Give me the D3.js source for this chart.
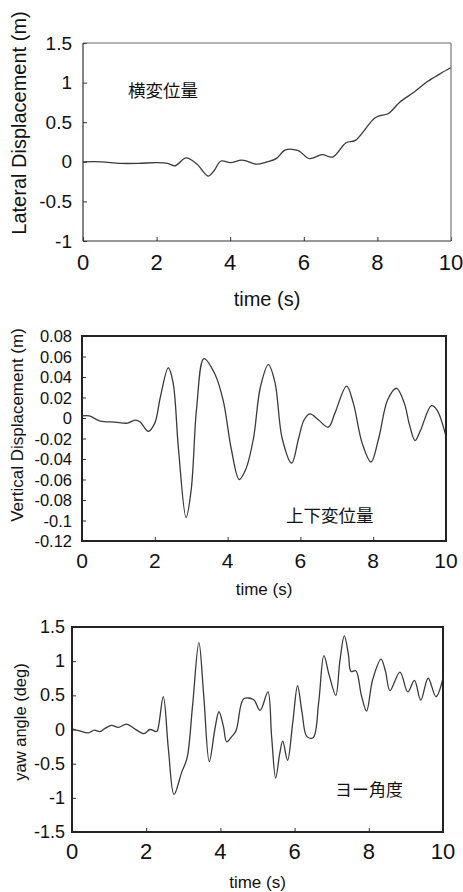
<!DOCTYPE html>
<html>
<head>
<meta charset="utf-8">
<script src="https://cdn.jsdelivr.net/npm/d3@7"></script>
<style>
  html, body { margin: 0; padding: 0; background: #fff; }
  svg { display: block; }
  text { font-family: "Liberation Sans", Arial, Helvetica, sans-serif; fill: #111; }
  .jp { font-family: "Noto Sans CJK JP", sans-serif; }
</style>
</head>
<body>
<svg id="chart" width="463" height="892"></svg>
<script>
// ---------- data ----------
const xTicks = [0, 2, 4, 6, 8, 10];
const xTickLabels = ["0", "2", "4", "6", "8", "10"];

const lateralTime = [0, 0.5, 1.0, 1.5, 2.0, 2.3, 2.5, 2.8, 3.1, 3.4, 3.55, 3.75, 4.0, 4.3, 4.45, 4.7, 5.0, 5.25, 5.5, 5.85, 6.15, 6.5, 6.78, 7.15, 7.4, 7.95, 8.3, 8.6, 9.0, 9.35, 9.7, 10];
const lateralValue = [0.0, 0.0, -0.02, -0.02, -0.01, -0.02, -0.05, 0.05, -0.03, -0.18, -0.12, 0.01, -0.01, 0.02, 0.01, -0.03, 0.0, 0.04, 0.15, 0.14, 0.04, 0.09, 0.06, 0.24, 0.27, 0.56, 0.61, 0.75, 0.88, 1.01, 1.11, 1.19];
const lateralTicks = [1.5, 1, 0.5, 0, -0.5, -1];
const lateralTickLabels = ["1.5", "1", "0.5", "0", "-0.5", "-1"];

const verticalTime = [0, 0.2, 0.5, 0.9, 1.25, 1.47, 1.6, 1.82, 2.0, 2.15, 2.37, 2.5, 2.65, 2.86, 3.0, 3.15, 3.35, 3.65, 3.88, 4.1, 4.32, 4.5, 4.71, 4.9, 5.12, 5.3, 5.5, 5.76, 5.95, 6.1, 6.26, 6.5, 6.77, 6.95, 7.27, 7.45, 7.7, 7.94, 8.15, 8.4, 8.64, 8.85, 9.0, 9.15, 9.3, 9.6, 9.75, 10];
const verticalValue = [0.002, 0.002, -0.003, -0.004, -0.005, -0.002, -0.004, -0.013, -0.005, 0.02, 0.049, 0.035, -0.03, -0.097, -0.07, 0.01, 0.058, 0.043, 0.017, -0.03, -0.06, -0.05, -0.02, 0.03, 0.052, 0.035, -0.02, -0.044, -0.02, -0.002, 0.004, -0.002, -0.009, 0.005, 0.031, 0.015, -0.025, -0.043, -0.02, 0.018, 0.029, 0.015, -0.007, -0.022, -0.012, 0.012, 0.008, -0.018];
const verticalTicks = [0.08, 0.06, 0.04, 0.02, 0, -0.02, -0.04, -0.06, -0.08, -0.1, -0.12];
const verticalTickLabels = ["0.08", "0.06", "0.04", "0.02", "0", "-0.02", "-0.04", "-0.06", "-0.08", "-0.1", "-0.12"];

const yawTime = [0, 0.2, 0.44, 0.6, 0.75, 0.9, 1.07, 1.25, 1.47, 1.69, 1.94, 2.1, 2.26, 2.3, 2.46, 2.6, 2.75, 2.96, 3.1, 3.25, 3.42, 3.55, 3.7, 3.85, 3.96, 4.08, 4.17, 4.31, 4.42, 4.55, 4.63, 4.89, 5.07, 5.28, 5.38, 5.49, 5.6, 5.68, 5.81, 5.95, 6.08, 6.2, 6.33, 6.5, 6.65, 6.79, 6.93, 7.11, 7.22, 7.34, 7.45, 7.52, 7.65, 7.8, 7.94, 8.1, 8.33, 8.45, 8.57, 8.84, 9.05, 9.23, 9.4, 9.6, 9.81, 10];
const yawValue = [0.01, -0.02, -0.05, -0.01, -0.03, 0.02, 0.06, 0.03, 0.08, 0.01, -0.06, 0.0, -0.03, -0.02, 0.48, -0.3, -0.95, -0.62, -0.42, 0.35, 1.27, 0.5, -0.47, 0.0, 0.26, 0.05, -0.18, -0.1, -0.02, 0.35, 0.45, 0.44, 0.28, 0.55, -0.1, -0.71, -0.35, -0.17, -0.45, 0.1, 0.64, 0.25, -0.1, -0.12, 0.4, 1.08, 0.8, 0.5, 1.0, 1.37, 1.1, 0.85, 0.86, 0.5, 0.27, 0.72, 1.03, 0.85, 0.57, 0.84, 0.55, 0.72, 0.43, 0.75, 0.48, 0.75];
const yawTicks = [1.5, 1, 0.5, 0, -0.5, -1, -1.5];
const yawTickLabels = ["1.5", "1", "0.5", "0", "-0.5", "-1", "-1.5"];

// ---------- drawing ----------
const svg = d3.select("#chart");

function panel(cfg) {
  const x = d3.scaleLinear().domain([0, 10]).range([cfg.left, cfg.right]);
  const y = d3.scaleLinear().domain(cfg.yDomain).range([cfg.bottom, cfg.top]);
  const g = svg.append("g");

  const yAxis = d3.axisRight(y).tickValues(cfg.yTicks).tickSize(cfg.tickLen).tickFormat("");
  g.append("g").attr("transform", `translate(${cfg.left},0)`).call(yAxis)
    .call(a => a.select(".domain").remove())
    .call(a => a.selectAll("line").attr("stroke", "#333").attr("stroke-width", 1));
  const xAxis = d3.axisTop(x).tickValues(xTicks).tickSize(cfg.tickLen).tickFormat("");
  g.append("g").attr("transform", `translate(0,${cfg.bottom})`).call(xAxis)
    .call(a => a.select(".domain").remove())
    .call(a => a.selectAll("line").attr("stroke", "#333").attr("stroke-width", 1));

  g.selectAll(".ylab").data(cfg.yTicks).enter().append("text")
    .attr("x", cfg.yLabRight).attr("y", d => y(d))
    .attr("text-anchor", "end").attr("dominant-baseline", "central")
    .attr("font-size", cfg.yTickSize)
    .text((d, i) => cfg.yTickLabels[i]);
  g.selectAll(".xlab").data(xTicks).enter().append("text")
    .attr("x", d => x(d)).attr("y", cfg.xLabY)
    .attr("text-anchor", "middle").attr("dominant-baseline", "central")
    .attr("font-size", cfg.xTickSize)
    .text((d, i) => xTickLabels[i]);

  g.append("text").attr("x", (cfg.left + cfg.right) / 2).attr("y", cfg.xTitleY)
    .attr("text-anchor", "middle").attr("dominant-baseline", "central")
    .attr("font-size", cfg.xTitleSize).text("time (s)");
  g.append("text")
    .attr("transform", `translate(${cfg.yTitleX},${cfg.yTitleY}) rotate(-90)`)
    .attr("text-anchor", "middle").attr("dominant-baseline", "central")
    .attr("font-size", cfg.yTitleSize).text(cfg.yTitle);

  const pts = cfg.t.map((t, i) => [t, cfg.v[i]]);
  const line = d3.line().x(d => x(d[0])).y(d => y(d[1])).curve(d3.curveCatmullRom.alpha(0.5));
  g.append("path").datum(pts).attr("d", line)
    .attr("fill", "none").attr("stroke", "#3a3a3a").attr("stroke-width", 1.3);

  if (cfg.lightFrame) {
    g.append("line").attr("x1", cfg.left).attr("x2", cfg.right).attr("y1", cfg.top).attr("y2", cfg.top)
      .attr("stroke", "#666").attr("stroke-width", 1);
    g.append("line").attr("x1", cfg.right).attr("x2", cfg.right).attr("y1", cfg.top).attr("y2", cfg.bottom)
      .attr("stroke", "#777").attr("stroke-width", 1.2);
    g.append("line").attr("x1", cfg.left).attr("x2", cfg.left).attr("y1", cfg.top).attr("y2", cfg.bottom)
      .attr("stroke", "#333").attr("stroke-width", 1.2);
    g.append("line").attr("x1", cfg.left).attr("x2", cfg.right).attr("y1", cfg.bottom).attr("y2", cfg.bottom)
      .attr("stroke", "#333").attr("stroke-width", 1.2);
  } else {
    g.append("rect").attr("x", cfg.left).attr("y", cfg.top)
      .attr("width", cfg.right - cfg.left).attr("height", cfg.bottom - cfg.top)
      .attr("fill", "none").attr("stroke", "#222").attr("stroke-width", 2);
  }

  g.append("text").attr("class", "jp").attr("x", cfg.jpX).attr("y", cfg.jpY)
    .attr("dominant-baseline", "central").attr("font-size", cfg.jpSize).text(cfg.jp);
}

panel({
  t: lateralTime, v: lateralValue, yDomain: [-1, 1.5], yTicks: lateralTicks, yTickLabels: lateralTickLabels,
  left: 83, right: 451, top: 43, bottom: 241, tickLen: 4, lightFrame: true,
  yLabRight: 72, yTickSize: 19, xLabY: 262, xTickSize: 22,
  xTitleY: 299, xTitleSize: 20,
  yTitle: "Lateral Displacement (m)", yTitleX: 19, yTitleY: 123, yTitleSize: 20,
  jp: "横変位量", jpX: 128, jpY: 89, jpSize: 17.5
});

panel({
  t: verticalTime, v: verticalValue, yDomain: [-0.12, 0.08], yTicks: verticalTicks, yTickLabels: verticalTickLabels,
  left: 82, right: 446, top: 336, bottom: 541, tickLen: 4, lightFrame: false,
  yLabRight: 72, yTickSize: 16.5, xLabY: 560, xTickSize: 21,
  xTitleY: 589, xTitleSize: 17,
  yTitle: "Vertical Displacement (m)", yTitleX: 17, yTitleY: 425, yTitleSize: 17,
  jp: "上下変位量", jpX: 286, jpY: 514, jpSize: 17.5
});

panel({
  t: yawTime, v: yawValue, yDomain: [-1.5, 1.5], yTicks: yawTicks, yTickLabels: yawTickLabels,
  left: 72, right: 443, top: 627, bottom: 832, tickLen: 4, lightFrame: false,
  yLabRight: 65, yTickSize: 18, xLabY: 851, xTickSize: 22,
  xTitleY: 882, xTitleSize: 17,
  yTitle: "yaw angle (deg)", yTitleX: 20, yTitleY: 722, yTitleSize: 16.5,
  jp: "ヨー角度", jpX: 335, jpY: 788, jpSize: 17
});
</script>
</body>
</html>
